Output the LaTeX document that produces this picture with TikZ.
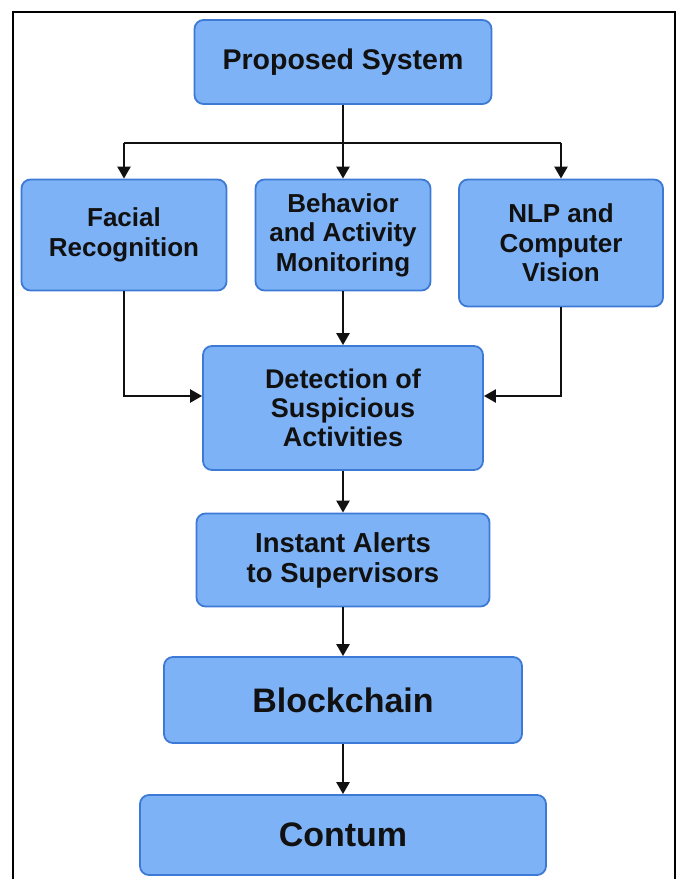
\documentclass[tikz,border=0pt]{standalone}
\usepackage{fontspec}
\setmainfont{Liberation Sans}
\usetikzlibrary{shapes, arrows.meta, positioning}

\definecolor{boxfill}{HTML}{7EB2F6}
\definecolor{boxline}{HTML}{3D7AD6}
\definecolor{ink}{HTML}{111111}

\tikzset{
  block/.style={draw=boxline, fill=boxfill, line width=1.8pt, rounded corners=9pt,
    align=center, inner sep=0pt, text=ink, font=\bfseries\fontsize{26}{29.5}\selectfont},
  link/.style={draw=ink, line width=2.4pt},
  flow/.style={link, -{Triangle[length=12pt,width=13pt]}}
}

\begin{document}
\begin{tikzpicture}[x=1pt,y=-1pt,on grid]
		\useasboundingbox (0,0) rectangle (678,879);
		\draw[line width=1.6pt] (13,879) -- (13,12) -- (675,12) -- (675,879);

		\node[block,minimum width=297pt,minimum height=84pt,font=\bfseries\fontsize{28.5}{31}\selectfont] (prop) at (343,62) {Proposed System};
		\node[block,minimum width=175pt,minimum height=111pt] (behav) [below=173pt of prop] {Behavior\\and Activity\\Monitoring};
		\node[block,minimum width=205pt,minimum height=111pt] (face) [left=219pt of behav] {Facial\\Recognition};
		\node[block,minimum width=204pt,minimum height=127pt] (nlp) at (561,243) {NLP and\\Computer\\Vision};
		\node[block,minimum width=280pt,minimum height=124pt,font=\bfseries\fontsize{27}{29}\selectfont] (detect) at (343,408) {Detection of\\Suspicious\\Activities};
		\node[block,minimum width=293pt,minimum height=93pt,font=\bfseries\fontsize{27.5}{30}\selectfont] (alert) [below=152pt of detect] {Instant Alerts\\to Supervisors};
		\node[block,minimum width=358pt,minimum height=86pt,font=\bfseries\fontsize{34}{36}\selectfont] (chain) [below=140pt of alert] {Blockchain};
		\node[block,minimum width=406pt,minimum height=80pt,font=\bfseries\fontsize{34}{36}\selectfont] (contum) [below=135pt of chain] {Contum};

		\coordinate (split) at (343,143);
		\coordinate (join) at (343,396);

		\draw[link] (prop) -- (split) (split -| face) -- (split -| nlp);
		\path
			(split -| face) edge[flow] (face)
			(split) edge[flow] (behav)
			(split -| nlp) edge[flow] (nlp)
			(behav) edge[flow] (detect)
			(detect) edge[flow] (alert)
			(alert) edge[flow] (chain)
			(chain) edge[flow] (contum);
		\draw[flow] (face.south) |- (join -| detect.west);
		\draw[flow] (nlp.south) |- (join -| detect.east);
	\end{tikzpicture}
\end{document}
